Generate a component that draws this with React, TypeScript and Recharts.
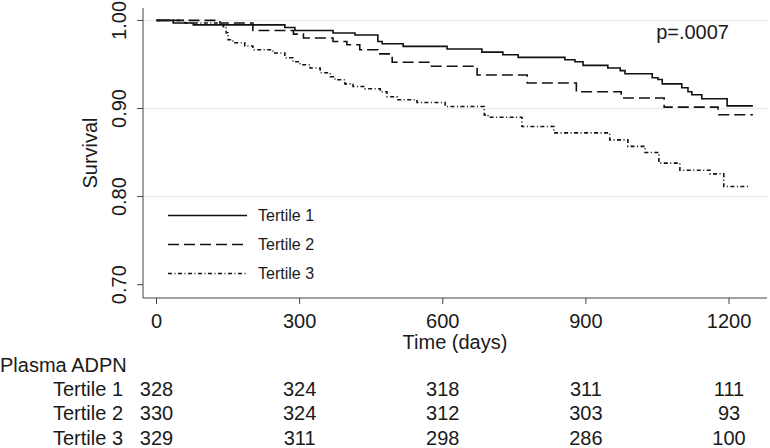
import React from "react";
import {
  Customized,
  Legend,
  Line,
  LineChart,
  ReferenceLine,
  XAxis,
  YAxis,
} from "recharts";

type Point = { t: number; s: number };

// Kaplan-Meier estimates (time in days, survival)
const tertile1: Point[] = [
  { t: 0, s: 1.0 },
  { t: 35, s: 0.997 },
  { t: 77, s: 0.995 },
  { t: 269, s: 0.992 },
  { t: 290, s: 0.9886 },
  { t: 370, s: 0.9857 },
  { t: 416, s: 0.9834 },
  { t: 464, s: 0.976 },
  { t: 473, s: 0.9735 },
  { t: 517, s: 0.9705 },
  { t: 609, s: 0.9675 },
  { t: 682, s: 0.964 },
  { t: 726, s: 0.961 },
  { t: 758, s: 0.958 },
  { t: 856, s: 0.9553 },
  { t: 877, s: 0.953 },
  { t: 894, s: 0.949 },
  { t: 946, s: 0.946 },
  { t: 972, s: 0.943 },
  { t: 982, s: 0.9394 },
  { t: 1039, s: 0.935 },
  { t: 1051, s: 0.933 },
  { t: 1060, s: 0.928 },
  { t: 1101, s: 0.9235 },
  { t: 1114, s: 0.919 },
  { t: 1122, s: 0.9156 },
  { t: 1143, s: 0.911 },
  { t: 1196, s: 0.903 },
  { t: 1250, s: 0.903 },
];

const tertile2: Point[] = [
  { t: 0, s: 1.0 },
  { t: 133, s: 0.997 },
  { t: 202, s: 0.9886 },
  { t: 287, s: 0.9845 },
  { t: 308, s: 0.98 },
  { t: 370, s: 0.976 },
  { t: 399, s: 0.9724 },
  { t: 426, s: 0.9667 },
  { t: 464, s: 0.962 },
  { t: 494, s: 0.9525 },
  { t: 573, s: 0.948 },
  { t: 672, s: 0.938 },
  { t: 777, s: 0.9289 },
  { t: 880, s: 0.919 },
  { t: 974, s: 0.912 },
  { t: 1064, s: 0.9016 },
  { t: 1177, s: 0.893 },
  { t: 1250, s: 0.893 },
];

const tertile3: Point[] = [
  { t: 0, s: 1.0 },
  { t: 60, s: 0.997 },
  { t: 140, s: 0.993 },
  { t: 146, s: 0.986 },
  { t: 150, s: 0.978 },
  { t: 160, s: 0.9747 },
  { t: 185, s: 0.971 },
  { t: 202, s: 0.9667 },
  { t: 244, s: 0.963 },
  { t: 269, s: 0.9576 },
  { t: 286, s: 0.953 },
  { t: 301, s: 0.9497 },
  { t: 322, s: 0.946 },
  { t: 343, s: 0.9406 },
  { t: 364, s: 0.936 },
  { t: 374, s: 0.9327 },
  { t: 395, s: 0.928 },
  { t: 412, s: 0.925 },
  { t: 437, s: 0.9224 },
  { t: 469, s: 0.919 },
  { t: 483, s: 0.9133 },
  { t: 504, s: 0.91 },
  { t: 546, s: 0.9068 },
  { t: 605, s: 0.9023 },
  { t: 687, s: 0.8928 },
  { t: 695, s: 0.89 },
  { t: 766, s: 0.8795 },
  { t: 833, s: 0.8724 },
  { t: 950, s: 0.8644 },
  { t: 988, s: 0.857 },
  { t: 1024, s: 0.85 },
  { t: 1053, s: 0.838 },
  { t: 1097, s: 0.83 },
  { t: 1160, s: 0.8258 },
  { t: 1189, s: 0.8114 },
  { t: 1244, s: 0.8114 },
];

const xTicks = [0, 300, 600, 900, 1200];
const yTicks = [0.7, 0.8, 0.9, 1.0];
const gridValues = [0.8, 0.9, 1.0];

const groupNames = ["Tertile 1", "Tertile 2", "Tertile 3"];
const atRisk1 = [328, 324, 318, 311, 111];
const atRisk2 = [330, 324, 312, 303, 93];
const atRisk3 = [329, 311, 298, 286, 100];

const series = [
  { name: groupNames[0], data: tertile1, dash: undefined as string | undefined },
  { name: groupNames[1], data: tertile2, dash: "11 5" },
  { name: groupNames[2], data: tertile3, dash: "4 2.5 1 2.5" },
];
const atRiskRows = [atRisk1, atRisk2, atRisk3];

const FONT = "'Liberation Sans', Arial, sans-serif";
const INK = "#1a1a1a";
const AXIS = "#444";
const TICK_BASELINE = 328;
const TITLE_BASELINE = 372;
const ROW_BASELINES = [396, 420, 445];

function TimeTick(props: any) {
  const { x, payload } = props;
  const i = xTicks.indexOf(payload.value);
  return (
    <g fontFamily={FONT} fontSize={20} fill={INK}>
      <text x={x} y={TICK_BASELINE} textAnchor="middle">
        {payload.value}
      </text>
      {atRiskRows.map((row, r) => (
        <text key={r} x={x} y={ROW_BASELINES[r]} textAnchor="middle">
          {row[i]}
        </text>
      ))}
      {i === 0 && (
        <>
          <text x={0} y={TITLE_BASELINE}>
            Plasma ADPN
          </text>
          {groupNames.map((name, r) => (
            <text key={name} x={53} y={ROW_BASELINES[r]}>
              {name}
            </text>
          ))}
        </>
      )}
    </g>
  );
}

function SurvivalTick(props: any) {
  const { x, y, payload } = props;
  const bx = x - 9;
  return (
    <text
      x={bx}
      y={y}
      transform={`rotate(-90 ${bx} ${y})`}
      textAnchor="middle"
      fontFamily={FONT}
      fontSize={20}
      fill={INK}
    >
      {payload.value.toFixed(2)}
    </text>
  );
}

function TimeLabel(props: any) {
  const vb = props.viewBox || { x: 143, width: 624 };
  return (
    <text
      x={vb.x + vb.width / 2}
      y={349}
      textAnchor="middle"
      fontFamily={FONT}
      fontSize={20}
      fill={INK}
    >
      Time (days)
    </text>
  );
}

function SurvivalLabel(props: any) {
  const vb = props.viewBox || { y: 8, height: 290 };
  const cy = vb.y + vb.height / 2;
  return (
    <text
      x={97}
      y={cy}
      transform={`rotate(-90 97 ${cy})`}
      textAnchor="middle"
      fontFamily={FONT}
      fontSize={20}
      fill={INK}
    >
      Survival
    </text>
  );
}

function LegendBox() {
  return (
    <div style={{ fontFamily: FONT, fontSize: 16, color: INK }}>
      {series.map((s) => (
        <div
          key={s.name}
          style={{ display: "flex", alignItems: "center", height: 29 }}
        >
          <svg width={79} height={29} style={{ display: "block" }}>
            <line
              x1={0}
              x2={79}
              y1={14.5}
              y2={14.5}
              stroke="#111"
              strokeWidth={1.6}
              strokeDasharray={s.dash}
            />
          </svg>
          <span style={{ marginLeft: 11 }}>{s.name}</span>
        </div>
      ))}
    </div>
  );
}

function PValue() {
  return (
    <text
      x={729}
      y={39}
      textAnchor="end"
      fontFamily={FONT}
      fontSize={20}
      fill={INK}
    >
      p=.0007
    </text>
  );
}

export default function App() {
  return (
    <div
      style={{
        position: "absolute",
        left: 0,
        top: 0,
        width: 770,
        height: 448,
        background: "#fff",
      }}
    >
      <LineChart
        width={770}
        height={448}
        margin={{ top: 8, right: 3, bottom: 90, left: 83 }}
      >
        {gridValues.map((v) => (
          <ReferenceLine key={v} y={v} stroke="#ebebeb" strokeWidth={1.5} />
        ))}
        <XAxis
          dataKey="t"
          type="number"
          domain={[-28.3, 1279.6]}
          ticks={xTicks}
          allowDataOverflow
          height={60}
          tickSize={6}
          tickMargin={2}
          stroke={AXIS}
          tick={<TimeTick />}
          label={<TimeLabel />}
        />
        <YAxis
          type="number"
          domain={[0.6849, 1.0141]}
          ticks={yTicks}
          allowDataOverflow
          width={60}
          tickSize={6}
          tickMargin={2}
          stroke={AXIS}
          tick={<SurvivalTick />}
          label={<SurvivalLabel />}
        />
        {series.map((s) => (
          <Line
            key={s.name}
            name={s.name}
            data={s.data}
            dataKey="s"
            type="stepAfter"
            stroke="#111"
            strokeWidth={1.6}
            strokeDasharray={s.dash}
            dot={false}
            activeDot={false}
            isAnimationActive={false}
          />
        ))}
        <Legend
          layout="vertical"
          align="center"
          verticalAlign="middle"
          content={() => <LegendBox />}
          wrapperStyle={{ left: 168, top: 201, width: 200 }}
        />
        <Customized component={<PValue />} />
      </LineChart>
    </div>
  );
}
